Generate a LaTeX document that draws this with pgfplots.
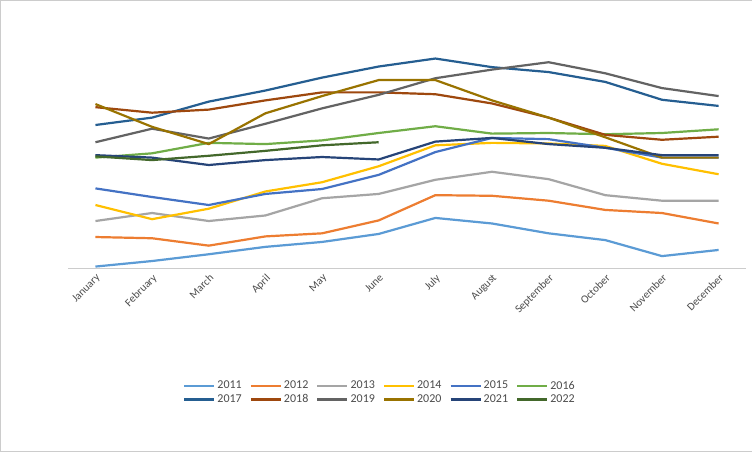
\documentclass[border=0pt]{standalone}
\usepackage{pgfplots}
\pgfplotsset{compat=1.18}
\usepackage{fontspec}
\setmainfont{Carlito}
\definecolor{c11}{HTML}{5B9BD5}\definecolor{c12}{HTML}{ED7D31}\definecolor{c13}{HTML}{A5A5A5}
\definecolor{c14}{HTML}{FFC000}\definecolor{c15}{HTML}{4472C4}\definecolor{c16}{HTML}{70AD47}
\definecolor{c17}{HTML}{255E91}\definecolor{c18}{HTML}{9E480E}\definecolor{c19}{HTML}{636363}
\definecolor{c20}{HTML}{997300}\definecolor{c21}{HTML}{264478}\definecolor{c22}{HTML}{43682B}
\begin{document}
\begin{tikzpicture}
\draw[gray!40,fill=white] (-68pt,-183pt) rectangle (683pt,268pt);
\begin{axis}[at={(0,0)},anchor=south west,scale only axis,width=677pt,height=246pt,
 xmin=-0.48,xmax=11.48,ymin=4000000,ymax=8000000,ytick distance=500000,
 xtick={0,...,11},xticklabels={January,February,March,April,May,June,July,August,September,October,November,December},
 x tick label style={rotate=45,anchor=north east,font=\fontsize{11}{12}\selectfont,text=black!70},
 y tick label style={font=\fontsize{12}{13}\selectfont,text=black!70},
 scaled y ticks=false,
 /pgf/number format/.cd,assume math mode=true,1000 sep={,},fixed,/pgfplots/.cd,
 ymajorgrids,grid style={gray!30},major tick length=0pt,
 axis x line*=bottom,axis y line=none,x axis line style={gray!40,-},
 every axis plot/.append style={line width=2.2pt,no marks},
 legend columns=6,legend cell align=left,
 legend style={at={(0.46,-0.44)},anchor=north,draw=none,font=\fontsize{12}{13}\selectfont,text=black!70,/tikz/every even column/.append style={column sep=6pt}},
 legend image code/.code={\draw[#1,line width=2.2pt](0pt,0pt)--(30pt,0pt);},
]
\addplot[c11] coordinates {(0,4030000)(1,4120000)(2,4230000)(3,4350000)(4,4430000)(5,4560000)(6,4820000)(7,4730000)(8,4570000)(9,4460000)(10,4200000)(11,4300000)};
\addplot[c12] coordinates {(0,4510000)(1,4490000)(2,4370000)(3,4520000)(4,4570000)(5,4780000)(6,5190000)(7,5180000)(8,5100000)(9,4950000)(10,4900000)(11,4730000)};
\addplot[c13] coordinates {(0,4770000)(1,4900000)(2,4770000)(3,4860000)(4,5140000)(5,5210000)(6,5440000)(7,5570000)(8,5450000)(9,5190000)(10,5100000)(11,5100000)};
\addplot[c14] coordinates {(0,5030000)(1,4800000)(2,4970000)(3,5250000)(4,5400000)(5,5660000)(6,6000000)(7,6040000)(8,6030000)(9,5990000)(10,5700000)(11,5530000)};
\addplot[c15] coordinates {(0,5300000)(1,5160000)(2,5030000)(3,5210000)(4,5290000)(5,5520000)(6,5890000)(7,6120000)(8,6100000)(9,5960000)(10,5800000)(11,5800000)};
\addplot[c16] coordinates {(0,5800000)(1,5870000)(2,6040000)(3,6020000)(4,6080000)(5,6200000)(6,6310000)(7,6190000)(8,6200000)(9,6180000)(10,6200000)(11,6260000)};
\addplot[c17] coordinates {(0,6330000)(1,6450000)(2,6710000)(3,6890000)(4,7100000)(5,7280000)(6,7410000)(7,7270000)(8,7190000)(9,7030000)(10,6740000)(11,6640000)};
\addplot[c18] coordinates {(0,6620000)(1,6530000)(2,6580000)(3,6730000)(4,6860000)(5,6860000)(6,6830000)(7,6680000)(8,6450000)(9,6170000)(10,6090000)(11,6140000)};
\addplot[c19] coordinates {(0,6050000)(1,6270000)(2,6110000)(3,6350000)(4,6600000)(5,6820000)(6,7090000)(7,7230000)(8,7350000)(9,7170000)(10,6930000)(11,6800000)};
\addplot[c20] coordinates {(0,6670000)(1,6300000)(2,6020000)(3,6520000)(4,6800000)(5,7060000)(6,7060000)(7,6730000)(8,6450000)(9,6130000)(10,5800000)(11,5800000)};
\addplot[c21] coordinates {(0,5840000)(1,5800000)(2,5680000)(3,5760000)(4,5810000)(5,5770000)(6,6060000)(7,6120000)(8,6020000)(9,5960000)(10,5840000)(11,5840000)};
\addplot[c22] coordinates {(0,5820000)(1,5760000)(2,5830000)(3,5910000)(4,6000000)(5,6050000)};
\legend{2011,2012,2013,2014,2015,2016,2017,2018,2019,2020,2021,2022}
\end{axis}
\end{tikzpicture}
\end{document}
